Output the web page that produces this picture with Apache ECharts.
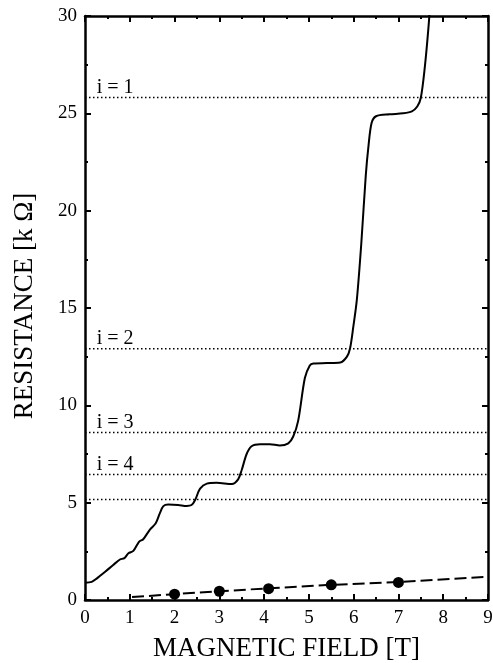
<!DOCTYPE html>
<html>
<head>
<meta charset="utf-8">
<script src="https://cdn.jsdelivr.net/npm/echarts@6/dist/echarts.min.js"></script>
<style>
  html, body { margin: 0; padding: 0; background: #fff; }
  #chart { width: 493px; height: 663px; }
</style>
</head>
<body>
<div id="chart"></div>
<script>
// measured curve R(B), kOhm vs Tesla
var fieldB = [0, 0.15, 0.26, 0.45, 0.63, 0.78, 0.88, 0.97, 1.08, 1.21, 1.30, 1.45, 1.58, 1.67, 1.75, 1.86,
  2.08, 2.27, 2.38, 2.46, 2.57, 2.72, 2.94, 3.28, 3.42, 3.50, 3.61, 3.72, 3.91, 4.13, 4.35, 4.54,
  4.65, 4.76, 4.91, 5.02, 5.10, 5.40, 5.70, 5.85, 5.92, 5.99, 6.07, 6.17, 6.27, 6.33, 6.40, 6.50,
  6.80, 7.10, 7.30, 7.42, 7.50, 7.59, 7.67, 7.72];
var resist = [0.89, 0.93, 1.10, 1.45, 1.80, 2.08, 2.15, 2.40, 2.52, 3.00, 3.12, 3.62, 3.94, 4.45, 4.82, 4.90,
  4.88, 4.83, 4.88, 5.14, 5.72, 5.98, 6.02, 5.96, 6.20, 6.68, 7.50, 7.90, 8.00, 8.00, 7.94, 8.05,
  8.40, 9.20, 11.40, 12.05, 12.15, 12.17, 12.20, 12.50, 12.93, 14.00, 15.40, 18.30, 21.80, 23.30, 24.50, 24.85,
  24.95, 25.00, 25.10, 25.35, 25.80, 27.40, 29.40, 31.00];

// second (low) curve with dots
var lowB = [1.05, 2, 3, 4.1, 5.5, 7, 9];
var lowR = [0.15, 0.30, 0.45, 0.60, 0.78, 0.92, 1.20];
var dotB = [2, 3, 4.1, 5.5, 7];
var dotR = [0.30, 0.45, 0.58, 0.78, 0.90];

// quantized plateaus h/(i e^2)
var plateauR = [25.81, 12.91, 8.60, 6.45, 5.16];
var plateauLabel = ['i = 1', 'i = 2', 'i = 3', 'i = 4', ''];

var xTicks = [0, 1, 2, 3, 4, 5, 6, 7, 8, 9];
var yTicks = [0, 5, 10, 15, 20, 25, 30];

var serif = '"Liberation Serif", "DejaVu Serif", serif';

var myChart = echarts.init(document.getElementById('chart'));

function zip(a, b) {
  return a.map(function (v, i) { return [v, b[i]]; });
}

var series = [];
plateauR.forEach(function (r, i) {
  series.push({
    type: 'line',
    data: [[0, r], [9, r]],
    symbol: 'none',
    silent: true,
    lineStyle: { color: '#000', width: 1.5, type: [1.5, 2.5] }
  });
  if (plateauLabel[i]) {
    series.push({
      type: 'scatter',
      data: [[0.26, r]],
      symbolSize: 0,
      silent: true,
      itemStyle: { opacity: 1 },
      label: {
        show: true,
        position: 'right',
        distance: 0,
        offset: [0, -10],
        formatter: plateauLabel[i],
        color: '#000',
        opacity: 1,
        fontFamily: serif,
        fontSize: 20
      }
    });
  }
});

series.push({
  type: 'line',
  data: zip(fieldB, resist),
  symbol: 'none',
  smooth: 0.3,
  clip: true,
  lineStyle: { color: '#000', width: 2 }
});
series.push({
  type: 'line',
  data: zip(lowB, lowR),
  symbol: 'none',
  lineStyle: { color: '#000', width: 2, type: [12, 5] }
});
series.push({
  type: 'scatter',
  data: zip(dotB, dotR),
  symbolSize: 11,
  itemStyle: { color: '#000', opacity: 1 }
});

var tickStyle = { show: true, inside: true, length: 6, lineStyle: { color: '#000', width: 2 } };
var minorStyle = { show: true, splitNumber: 2, length: 3, lineStyle: { color: '#000', width: 2 } };

var option = {
  animation: false,
  backgroundColor: '#fff',
  grid: { left: 85, right: 5, top: 16, bottom: 63, outerBoundsMode: 'none', containLabel: false },
  xAxis: [{
    type: 'value',
    min: 0, max: 9, interval: 1,
    position: 'bottom',
    name: 'MAGNETIC FIELD [T]',
    nameLocation: 'middle',
    nameGap: 35,
    nameTextStyle: { color: '#000', fontFamily: serif, fontSize: 27 },
    axisLine: { show: true, onZero: false, lineStyle: { color: '#000', width: 2.5 } },
    axisTick: tickStyle,
    minorTick: minorStyle,
    splitLine: { show: false },
    axisLabel: {
      color: '#000', fontFamily: serif, fontSize: 19, margin: 9,
      formatter: function (v) { return xTicks.indexOf(v) >= 0 ? String(v) : ''; }
    }
  }, {
    type: 'value',
    min: 0, max: 9, interval: 1,
    position: 'top',
    axisLine: { show: true, onZero: false, lineStyle: { color: '#000', width: 2.5 } },
    axisTick: tickStyle,
    minorTick: minorStyle,
    splitLine: { show: false },
    axisLabel: { show: false }
  }],
  yAxis: [{
    type: 'value',
    min: 0, max: 30, interval: 5,
    position: 'left',
    axisLine: { show: true, onZero: false, lineStyle: { color: '#000', width: 2.5 } },
    axisTick: tickStyle,
    minorTick: minorStyle,
    splitLine: { show: false },
    axisLabel: {
      color: '#000', fontFamily: serif, fontSize: 19, margin: 8,
      formatter: function (v) { return yTicks.indexOf(v) >= 0 ? String(v) : ''; }
    }
  }, {
    type: 'value',
    min: 0, max: 30, interval: 5,
    position: 'right',
    axisLine: { show: true, onZero: false, lineStyle: { color: '#000', width: 2.5 } },
    axisTick: tickStyle,
    minorTick: minorStyle,
    splitLine: { show: false },
    axisLabel: { show: false }
  }],
  graphic: [{
    type: 'text',
    x: 25,
    y: 306,
    rotation: Math.PI / 2,
    style: {
      text: 'RESISTANCE [k Ω]',
      fill: '#000',
      font: '27px ' + serif,
      align: 'center',
      verticalAlign: 'middle'
    }
  }],
  series: series
};

myChart.setOption(option);
window.addEventListener('resize', function () {
  myChart.resize();
});
</script>
</body>
</html>
